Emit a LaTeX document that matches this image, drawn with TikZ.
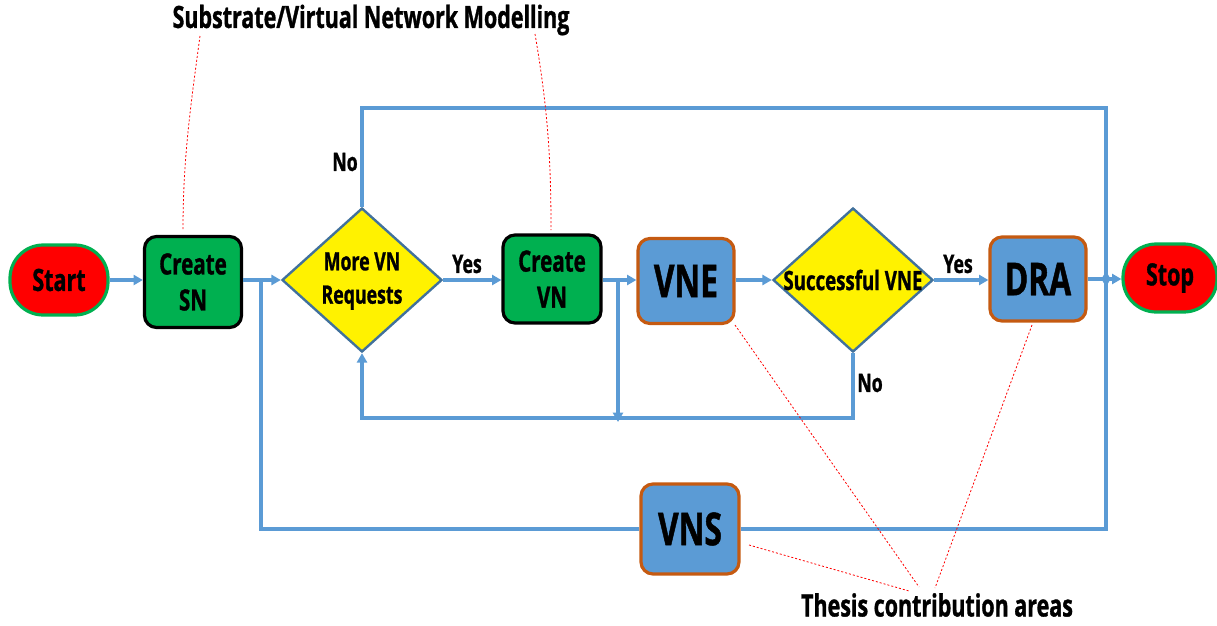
\documentclass[tikz,border=0pt]{standalone}
\usepackage{fontspec}
\setmainfont{Open Sans}[FakeStretch=0.7,BoldFeatures={FakeBold=1}]
\usetikzlibrary{shapes.geometric,arrows.meta}
\definecolor{lblue}{HTML}{5B9BD5}
\definecolor{dblue}{HTML}{41719C}
\definecolor{pgreen}{HTML}{00B050}
\definecolor{corange}{HTML}{C55A11}
\begin{document}
\begin{tikzpicture}[x=0.75pt,y=-0.75pt,
 flow/.style={draw=lblue,line width=2.5pt},
 arr/.style={flow,-{Triangle[length=7pt,width=7.5pt]}},
 term/.style={rectangle,rounded corners=25pt,fill=red,draw=pgreen,line width=2.4pt,inner sep=0pt,font=\fontsize{23}{27}\selectfont\bfseries},
 proc/.style={rectangle,rounded corners=9pt,fill=pgreen,draw=black,line width=2.4pt,inner sep=0pt,align=center,font=\fontsize{22}{27}\selectfont\bfseries},
 contrib/.style={rectangle,rounded corners=9pt,fill=lblue,draw=corange,line width=2.4pt,inner sep=0pt,font=\fontsize{34}{40}\selectfont\bfseries},
 dec/.style={diamond,fill=yellow,draw=dblue,line width=1.8pt,inner sep=0pt,minimum width=120pt,minimum height=108pt},
 lbl/.style={font=\fontsize{19}{25}\selectfont\bfseries,inner sep=0pt,align=center},
 ttl/.style={font=\fontsize{23}{27}\selectfont\bfseries,inner sep=0pt},
 note/.style={draw=red,line width=0.6pt,dash pattern=on 1.5pt off 1.5pt}
]
\useasboundingbox (0,0) rectangle (1217,625);
% nodes
\node[term,minimum width=73.5pt,minimum height=52.5pt] (start) at (59,280) {Start};
\node[proc,minimum width=72.75pt,minimum height=68.25pt] (csn) at (193,282) {Create\\SN};
\node[dec] (d1) at (362,280) {};
\node[lbl] (t1) at (362,281) {More VN\\Requests};
\node[proc,minimum width=73.5pt,minimum height=66pt] (cvn) at (552,279) {Create\\VN};
\node[contrib,minimum width=72pt,minimum height=63.75pt] (vne) at (686,281) {VNE};
\node[dec] (d2) at (853,280) {};
\node[lbl,font=\fontsize{20}{24}\selectfont\bfseries] (t2) at (853,280) {Successful VNE};
\node[contrib,minimum width=72pt,minimum height=63pt] (dra) at (1038,279) {DRA};
\node[term,minimum width=70.5pt,minimum height=51pt] (stop) at (1170,278) {Stop};
\node[contrib,minimum width=73.5pt,minimum height=67.5pt] (vns) at (690,529) {VNS};
% titles
\node[ttl] (title) at (371,20) {Substrate/Virtual Network Modelling};
\node[ttl] (thesis) at (937,605) {Thesis contribution areas};
% labels
\node[lbl] (no1) at (345,162) {No};
\node[lbl] (yes1) at (467,264) {Yes};
\node[lbl] (no2) at (870,383) {No};
\node[lbl] (yes2) at (958,264) {Yes};
% coordinates
\coordinate (j1) at (261,280);
\coordinate (j3) at (618,280);
\coordinate (js) at (1106,279);
\coordinate (top) at (362,108);
\coordinate (bot) at (853,418);
\coordinate (j3b) at (618,418);
% connectors
\draw[arr] (start.east) -- (csn.west |- start.east);
\draw[arr] (csn.east |- d1.west) -- (d1.west);
\draw[flow] (j1) |- (vns.west);
\draw[arr] (vns.east) -| ([yshift=6]js);
\draw[arr] (d1.north) -- (top) -| ([yshift=-6]js);
\draw[arr] (d1.east) -- (cvn.west |- d1.east);
\draw[arr] (cvn.east |- j3) -- (vne.west |- j3);
\draw[arr] (j3) -- ([yshift=-3]j3b);
\draw[arr] (vne.east |- j3) -- (d2.west);
\draw[arr] (d2.east) -- (dra.west |- d2.east);
\draw[arr] (dra.east |- js) -- (stop.west |- js);
\draw[arr] (d2.south) -- (bot) -| (d1.south);
% annotation lines
\draw[note] (200,36) .. controls (190,110) and (183,160) .. (183,230);
\draw[note] (535,34) .. controls (548,110) and (551,160) .. (551,230);
\draw[note] (749,545) -- (909,591);
\draw[note] (735,325) -- (919,587);
\draw[note] (1032,325) -- (935,588);
\end{tikzpicture}
\end{document}
